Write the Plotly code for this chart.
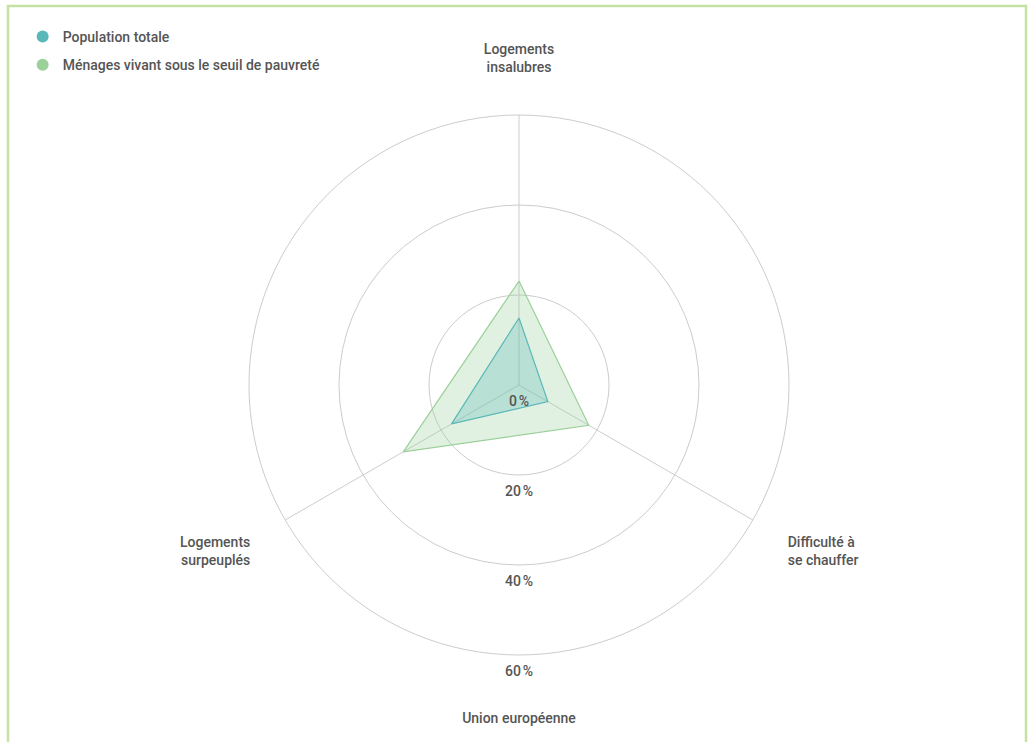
import plotly.graph_objects as go

categories = ["Logements<br>insalubres", "Difficulté à<br>se chauffer", "Logements<br>surpeuplés"]
series_names = ["Population totale", "Ménages vivant sous le seuil de pauvreté"]
pop_totale = [14.9, 7.4, 17.3]
menages_pauvres = [23.1, 17.9, 29.7]
radial_ticks = [0, 20, 40, 60]
radial_tick_labels = ["0\u202f%", "20\u202f%", "40\u202f%", "60\u202f%"]
title_text = "Union européenne"

n = len(categories)
angles = [i * 360 / n for i in range(n)]

TEXT = "#555555"
FONT = "Roboto"
FONT_DEF = dict(family=FONT, size=14, color=TEXT, weight=500)

fig = go.Figure()

styles = [
    dict(line="#5bb8b8", fill="rgba(91,184,184,0.30)", marker="#5bb8b8"),
    dict(line="#9bd09a", fill="rgba(155,208,154,0.30)", marker="#9bd09a"),
]
data = [pop_totale, menages_pauvres]

# draw bigger polygon first so smaller one sits on top
for idx in [1, 0]:
    vals = data[idx]
    st = styles[idx]
    fig.add_trace(go.Scatterpolar(
        r=vals + vals[:1], theta=angles + angles[:1],
        mode="lines", fill="toself", fillcolor=st["fill"],
        line=dict(color=st["line"], width=1.2),
        name=series_names[idx], legendgroup=str(idx), showlegend=False,
        hoverinfo="skip",
    ))

for idx in [0, 1]:
    st = styles[idx]
    fig.add_trace(go.Scatterpolar(
        r=[None], theta=[None], mode="markers",
        marker=dict(color=st["marker"], size=12, symbol="circle"),
        name=series_names[idx], legendgroup=str(idx), showlegend=True,
    ))

# radial tick labels placed straight down
fig.add_trace(go.Scatterpolar(
    r=radial_ticks, theta=[180] * len(radial_ticks), mode="markers+text",
    marker=dict(size=15, opacity=0),
    text=radial_tick_labels, textposition="bottom center",
    textfont=FONT_DEF,
    showlegend=False, hoverinfo="skip", cliponaxis=False,
))

W, H = 1029, 742
cx, cy, R = 519, 385, 270
fig.update_layout(
    width=W, height=H,
    margin=dict(l=0, r=0, t=0, b=0),
    paper_bgcolor="white", plot_bgcolor="white",
    font=FONT_DEF,
    title=dict(text=title_text, x=cx / W, xanchor="center", y=1 - 718 / H,
               yanchor="middle", yref="container", font=FONT_DEF),
    legend=dict(x=0.022, y=1 - 21 / H, xanchor="left", yanchor="top",
                font=FONT_DEF, itemwidth=30, tracegroupgap=7,
                bgcolor="rgba(0,0,0,0)"),
    polar=dict(
        domain=dict(x=[(cx - R) / W, (cx + R) / W], y=[1 - (cy + R) / H, 1 - (cy - R) / H]),
        bgcolor="white",
        radialaxis=dict(range=[0, 60], tickvals=radial_ticks, showticklabels=False,
                        showline=False, ticks="", gridcolor="#cccccc", gridwidth=1),
        angularaxis=dict(type="linear", rotation=90, direction="clockwise",
                         tickmode="array", tickvals=angles, ticktext=categories,
                         showline=True, linecolor="#cccccc", linewidth=1,
                         gridcolor="#cccccc", gridwidth=1,
                         ticks="outside", ticklen=37, tickcolor="rgba(0,0,0,0)",
                         tickfont=FONT_DEF),
    ),
    shapes=[dict(type="rect", xref="paper", yref="paper",
                 x0=8 / W, x1=1026 / W, y0=-0.05, y1=1 - 6 / H,
                 line=dict(color="#c5e1a5", width=2.5), fillcolor="rgba(0,0,0,0)")],
)

fig.write_html("out.html", config={"displayModeBar": False},
               post_script="document.body.style.margin='0';")
